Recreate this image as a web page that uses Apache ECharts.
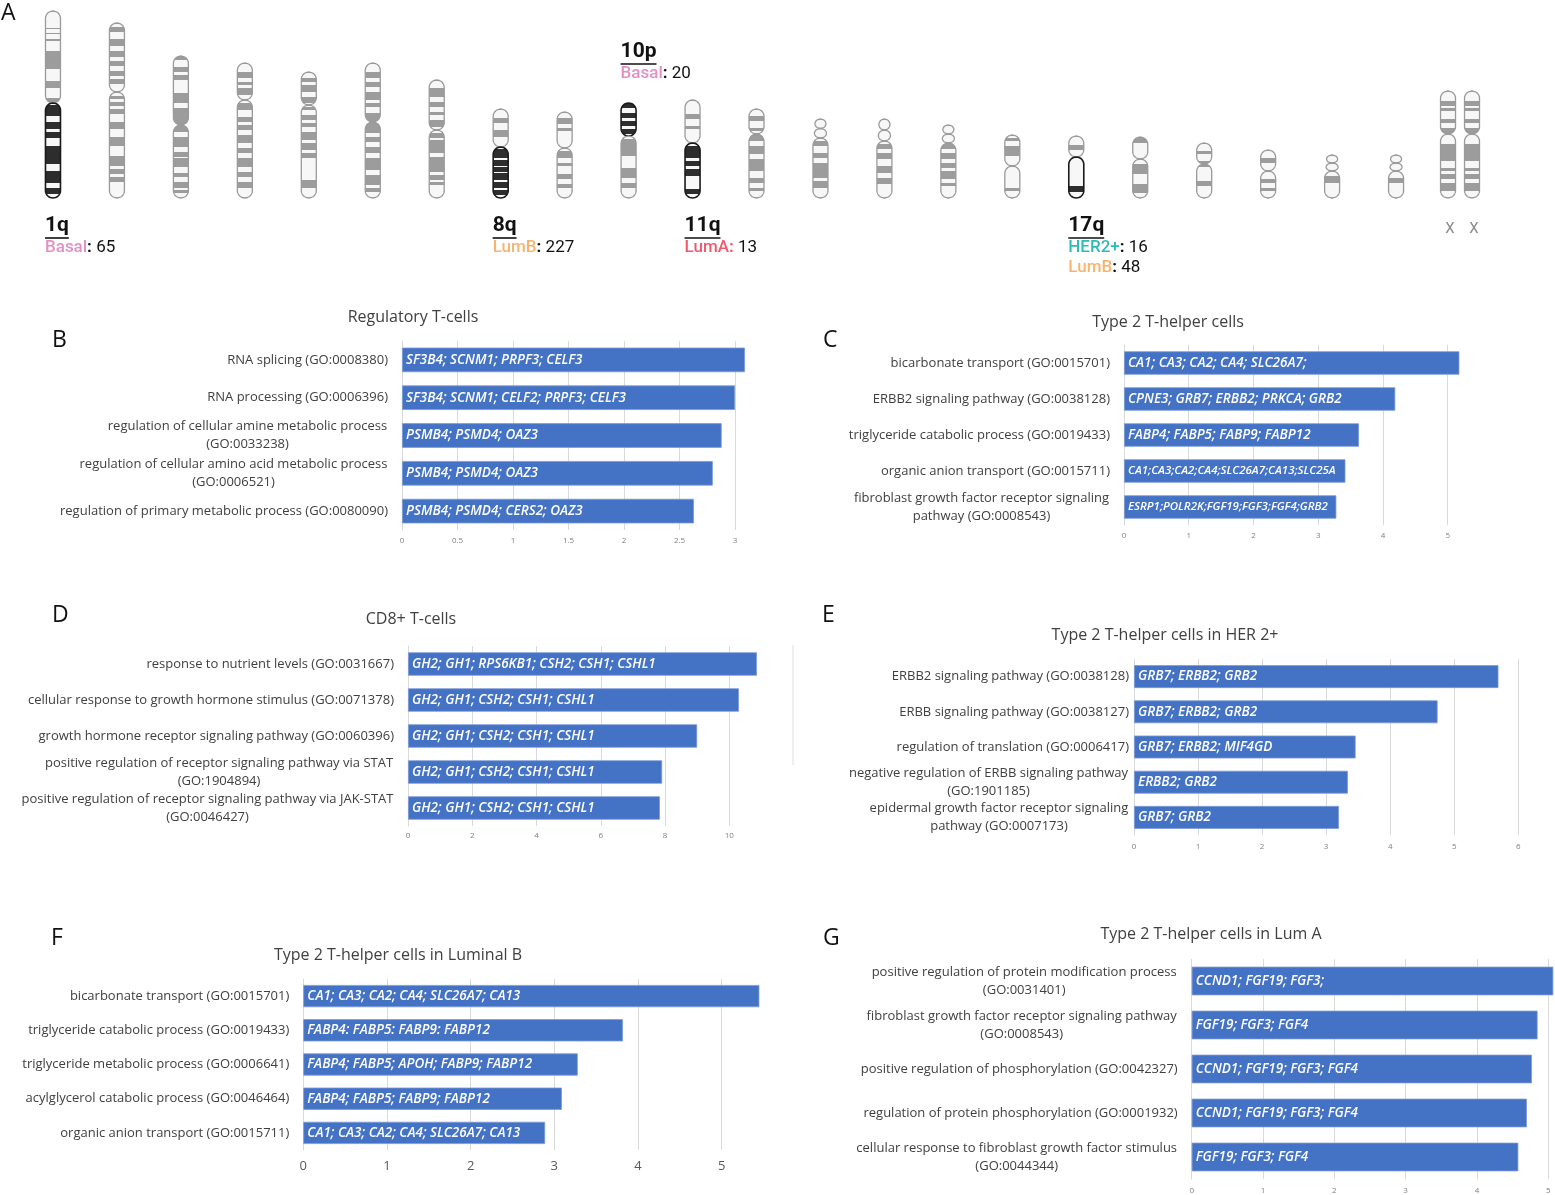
<!DOCTYPE html>
<html><head><meta charset="utf-8">
<script src="https://cdn.jsdelivr.net/npm/echarts@6/dist/echarts.min.js"></script>
<style>html,body{margin:0;padding:0;background:#fff}#c{width:1555px;height:1195px}</style>
</head><body><div id="c"></div>
<script>
// ---------- Panel A: chromosome ideograms ----------
const chromNames = ['1','2','3','4','5','6','7','8','9','10','11','12','13','14','15','16','17','18','19','20','21','22','X'];
const chromLen   = [187,175,142,135,126,135,118,89,86,95,98,89,79,79,73,63,62,61,55,48,43,43,107];
const centroPos  = [92,69,69,37,33,59,50,38,36,33,43,25,19,22,18,31,21,22,21,21,16,16,43];
const acrocentric = ['13','14','15','21','22'];
const chromBands = [
  [[17,18],[22,23],[28,30],[40,58],[70,77],[87,92],[94,105],[111,118],[121,127],[135,153],[160,172],[177,183]],
  [[4,9],[16,23],[28,34],[38,43],[48,53],[56,61],[73,76],[79,83],[86,91],[99,106],[114,123],[133,143],[146,151],[154,159]],
  [[0,4],[11,16],[19,24],[37,47],[52,76],[81,91],[96,101],[102,111],[117,121],[126,132],[134,137]],
  [[9,15],[19,22],[25,32],[40,47],[54,59],[62,67],[72,80],[85,90],[95,104],[109,114],[119,125]],
  [[6,10],[13,20],[25,31],[35,38],[43,48],[51,55],[60,68],[71,78],[81,86],[108,116]],
  [[9,15],[19,24],[29,37],[40,44],[50,70],[74,79],[84,90],[95,107],[112,122],[125,129]],
  [[8,17],[22,27],[32,35],[40,47],[53,58],[60,73],[77,92],[95,100],[102,105]],
  [[9,14],[21,28],[40,49],[51,57],[58,63],[64,71],[73,79],[81,86]],
  [[6,12],[16,19],[39,46],[51,54],[62,67],[72,76]],
  [[1,5],[10,15],[18,23],[26,31],[36,53],[65,75],[80,85]],
  [[14,19],[26,29],[46,58],[61,66],[69,76],[89,94]],
  [[7,12],[19,22],[25,32],[37,45],[50,62],[69,74],[79,82]],
  [[22,27],[34,39],[44,59],[62,69]],
  [[25,30],[34,40],[47,54],[59,65]],
  [[19,24],[28,34],[38,43],[46,54],[58,61]],
  [[3,6],[11,21],[53,56]],
  [[9,14],[50,56]],
  [[0,6],[27,37],[47,56]],
  [[8,11],[18,24],[38,43]],
  [[8,13],[29,33],[38,41]],
  [[21,28]],
  [[23,28]],
  [[10,15],[17,20],[28,32],[37,42],[53,70],[77,80],[83,88],[92,100]]
];
const highlightArm = {'1':'q','8':'q','10':'p','11':'q','17':'q'};

// Annotations of gained arms per subtype
const annotArm   = ['1q','8q','10p','11q','17q'];
const annotChrom = ['1','8','10','11','17'];
const annotSubtypes = [['Basal'],['LumB'],['Basal'],['LumA'],['HER2+','LumB']];
const annotCounts   = [[65],[227],[20],[13],[16,48]];
const subtypeColor = {'Basal':'#e48fc5','LumB':'#f8b46f','LumA':'#f05a6f','HER2+':'#2dbdb7'};

// ---------- Bar panels ----------
const bCats = ['RNA splicing (GO:0008380)','RNA processing (GO:0006396)','regulation of cellular amine metabolic process\n(GO:0033238)','regulation of cellular amino acid metabolic process\n(GO:0006521)','regulation of primary metabolic process (GO:0080090)'];
const bVals = [3.09,3.00,2.88,2.80,2.63];
const bGenes = ['SF3B4; SCNM1; PRPF3; CELF3','SF3B4; SCNM1; CELF2; PRPF3; CELF3','PSMB4; PSMD4; OAZ3','PSMB4; PSMD4; OAZ3','PSMB4; PSMD4; CERS2; OAZ3'];

const cCats = ['bicarbonate transport (GO:0015701)','ERBB2 signaling pathway (GO:0038128)','triglyceride catabolic process (GO:0019433)','organic anion transport (GO:0015711)','fibroblast growth factor receptor signaling\npathway (GO:0008543)'];
const cVals = [5.18,4.19,3.63,3.42,3.28];
const cGenes = ['CA1; CA3; CA2; CA4; SLC26A7;','CPNE3; GRB7; ERBB2; PRKCA; GRB2','FABP4; FABP5; FABP9; FABP12','CA1;CA3;CA2;CA4;SLC26A7;CA13;SLC25A','ESRP1;POLR2K;FGF19;FGF3;FGF4;GRB2'];

const dCats = ['response to nutrient levels (GO:0031667)','cellular response to growth hormone stimulus (GO:0071378)','growth hormone receptor signaling pathway (GO:0060396)','positive regulation of receptor signaling pathway via STAT\n(GO:1904894)','positive regulation of receptor signaling pathway via JAK-STAT\n(GO:0046427)'];
const dVals = [10.86,10.3,9.0,7.91,7.84];
const dGenes = ['GH2; GH1; RPS6KB1; CSH2; CSH1; CSHL1','GH2; GH1; CSH2; CSH1; CSHL1','GH2; GH1; CSH2; CSH1; CSHL1','GH2; GH1; CSH2; CSH1; CSHL1','GH2; GH1; CSH2; CSH1; CSHL1'];

const eCats = ['ERBB2 signaling pathway (GO:0038128)','ERBB signaling pathway (GO:0038127)','regulation of translation (GO:0006417)','negative regulation of ERBB signaling pathway\n(GO:1901185)','epidermal growth factor receptor signaling\npathway (GO:0007173)'];
const eVals = [5.69,4.74,3.46,3.34,3.20];
const eGenes = ['GRB7; ERBB2; GRB2','GRB7; ERBB2; GRB2','GRB7; ERBB2; MIF4GD','ERBB2; GRB2','GRB7; GRB2'];

const fCats = ['bicarbonate transport (GO:0015701)','triglyceride catabolic process (GO:0019433)','triglyceride metabolic process (GO:0006641)','acylglycerol catabolic process (GO:0046464)','organic anion transport (GO:0015711)'];
const fVals = [5.45,3.82,3.28,3.09,2.89];
const fGenes = ['CA1; CA3; CA2; CA4; SLC26A7; CA13','FABP4: FABP5: FABP9: FABP12','FABP4; FABP5; APOH; FABP9; FABP12','FABP4; FABP5; FABP9; FABP12','CA1; CA3; CA2; CA4; SLC26A7; CA13'];

const gCats = ['positive regulation of protein modification process\n(GO:0031401)','fibroblast growth factor receptor signaling pathway\n(GO:0008543)','positive regulation of phosphorylation (GO:0042327)','regulation of protein phosphorylation (GO:0001932)','cellular response to fibroblast growth factor stimulus\n(GO:0044344)'];
const gVals = [5.07,4.85,4.77,4.70,4.58];
const gGenes = ['CCND1; FGF19; FGF3;','FGF19; FGF3; FGF4','CCND1; FGF19; FGF3; FGF4','CCND1; FGF19; FGF3; FGF4','FGF19; FGF3; FGF4'];

const panelTitles = ['Regulatory T-cells','Type 2 T-helper cells','CD8+ T-cells','Type 2 T-helper cells in HER 2+','Type 2 T-helper cells in Luminal B','Type 2 T-helper cells in Lum A'];
const panelLetters = ['A','B','C','D','E','F','G'];

// ---------- helpers ----------
const FONT = 'Open Sans';
const mctx = document.createElement('canvas').getContext('2d');
function textW(str, font) { mctx.font = font; return mctx.measureText(str).width; }

function halfW(y, ya, yb, r) {
  const ry = Math.min(r, (yb - ya) / 2);
  let d = 0;
  if (y < ya + ry) d = (ya + ry - y) / ry;
  else if (y > yb - ry) d = (y - (yb - ry)) / ry;
  return r * Math.sqrt(Math.max(0, 1 - d * d));
}
function capsulePts(xc, ya, yb, r, y1, y2) {
  y1 = Math.max(y1, ya); y2 = Math.min(y2, yb);
  if (y2 - y1 < 0.2) return null;
  const n = Math.max(2, Math.ceil((y2 - y1) / 0.5));
  const L = [], R = [];
  for (let k = 0; k <= n; k++) {
    const y = y1 + (y2 - y1) * k / n;
    const h = halfW(y, ya, yb, r);
    L.push([xc - h, y]); R.push([xc + h, y]);
  }
  return L.concat(R.reverse());
}
function armEls(xc, ya, yb, r, bands, bandColor, stroke, lw) {
  const els = [];
  const full = capsulePts(xc, ya, yb, r, ya, yb);
  if (!full) return els;
  els.push({type:'polygon', shape:{points: full}, style:{fill:'#f7f7f7'}});
  bands.forEach(b => {
    const p = capsulePts(xc, ya, yb, r, b[0], b[1]);
    if (p) els.push({type:'polygon', shape:{points:p}, style:{fill:bandColor}});
  });
  els.push({type:'polygon', shape:{points: full}, style:{fill:'none', stroke: stroke, lineWidth: lw}});
  return els;
}

function renderChrom(params, api) {
  const i = params.dataIndex;
  const name = chromNames[i];
  const len = chromLen[i], c = centroPos[i];
  const yOf = pos => api.coord([i, len - pos])[1];
  const base = api.coord([i, 0]);
  const hl = highlightArm[name];
  const offsets = name === 'X' ? [-12, 12] : [0];
  const children = [];
  offsets.forEach(off => {
    const xc = base[0] + off;
    const r = 7.5;
    const top = yOf(0), cen = yOf(c), bot = yOf(len);
    const pBands = [], qBands = [];
    chromBands[i].forEach(b => {
      const s = yOf(b[0]), e = yOf(b[1]);
      if (s < cen) pBands.push([s, Math.min(e, cen)]);
      if (e > cen) qBands.push([Math.max(s, cen), e]);
    });
    if (acrocentric.indexOf(name) >= 0) {
      const mid = (top + cen) / 2;
      children.push(...armEls(xc, top, mid, 5.5, [], '#9c9c9c', '#9a9a9a', 1.3));
      children.push(...armEls(xc, mid, cen, 6, [], '#9c9c9c', '#9a9a9a', 1.3));
    } else {
      const pHL = hl === 'p';
      children.push(...armEls(xc, top, cen, r, pBands, pHL ? '#2d2d2d' : '#9c9c9c', pHL ? '#1a1a1a' : '#9a9a9a', pHL ? 1.6 : 1.3));
    }
    const qHL = hl === 'q';
    children.push(...armEls(xc, cen, bot, r, qBands, qHL ? '#2d2d2d' : '#9c9c9c', qHL ? '#1a1a1a' : '#9a9a9a', qHL ? 1.6 : 1.3));
    if (name === 'X') {
      children.push({type:'text', x: xc + 2, y: bot + 31, style:{text:'X', fill:'#8a8a8a', font:'15px Roboto', textAlign:'center', textVerticalAlign:'middle'}});
    }
  });
  return {type:'group', children};
}

function renderAnnot(params, api) {
  const k = params.dataIndex;
  const ci = chromNames.indexOf(annotChrom[k]);
  const len = chromLen[ci];
  const isP = annotArm[k].slice(-1) === 'p';
  const bottom = api.coord([ci, 0]);
  const topY = api.coord([ci, len])[1];
  const x = bottom[0] - 8;
  const y0 = isP ? topY - 51 : bottom[1] + 28;
  const armFont = 'bold 21px Roboto';
  const w = textW(annotArm[k], armFont);
  const children = [
    {type:'text', x, y: y0, style:{text: annotArm[k], font: armFont, fill:'#111', textAlign:'left', textVerticalAlign:'middle'}},
    {type:'line', shape:{x1:x, y1:y0 + 12, x2:x + w, y2:y0 + 12}, style:{stroke:'#111', lineWidth:1.6}}
  ];
  annotSubtypes[k].forEach((s, j) => {
    const colonCol = s === 'LumA' ? subtypeColor[s] : '#111';
    children.push({type:'text', x, y: y0 + 22 + j * 20, style:{
      text: '{s|' + s + '}{c|:}{n| ' + annotCounts[k][j] + '}',
      textAlign:'left', textVerticalAlign:'middle',
      rich: {
        s: {fill: subtypeColor[s], fontSize: 17, fontFamily:'Roboto', fontWeight: 500},
        c: {fill: colonCol, fontSize: 17, fontFamily:'Roboto', fontWeight: 700},
        n: {fill: '#111', fontSize: 17, fontFamily:'Roboto'}
      }
    }});
  });
  return {type:'group', children};
}

// ---------- build option ----------
const grids = [], xAxes = [], yAxes = [], series = [];

grids.push({left: 21, top: 8, width: 1471, height: 190});
xAxes.push({type:'category', gridIndex:0, data: chromNames, show:false});
yAxes.push({type:'value', gridIndex:0, min:0, max:190, show:false});
series.push({type:'custom', xAxisIndex:0, yAxisIndex:0, renderItem: renderChrom, data: chromNames.map((n, i) => [i, chromLen[i]]), silent:true, animation:false, clip:false});
series.push({type:'custom', xAxisIndex:0, yAxisIndex:0, renderItem: renderAnnot, data: annotArm.map((a, k) => [chromNames.indexOf(annotChrom[k]), 0]), silent:true, animation:false, clip:false});

const panels = [
  {cats:bCats, vals:bVals, genes:bGenes, lay:{left:402, top:341, width:333, height:189, max:3, step:0.5, tickFont:8, tickMargin:7, labelMargin:14}},
  {cats:cCats, vals:cVals, genes:cGenes, lay:{left:1124, top:345, width:323.7, height:180, max:5, step:1, tickFont:8, tickMargin:7, labelMargin:14}, labelSize:{3:11.5, 4:11.5}},
  {cats:dCats, vals:dVals, genes:dGenes, lay:{left:408, top:646, width:321.3, height:180, max:10, step:2, tickFont:8, tickMargin:6, labelMargin:14}},
  {cats:eCats, vals:eVals, genes:eGenes, lay:{left:1134, top:659, width:384.3, height:176, max:6, step:1, tickFont:8, tickMargin:8, labelMargin:5}},
  {cats:fCats, vals:fVals, genes:fGenes, lay:{left:303.3, top:979, width:418.4, height:171, max:5, step:1, tickFont:13, tickMargin:10, labelMargin:14}},
  {cats:gCats, vals:gVals, genes:gGenes, lay:{left:1191.7, top:959, width:356.6, height:221, max:5, step:1, tickFont:8, tickMargin:8, labelMargin:14}}
];

panels.forEach((p, pi) => {
  const gi = pi + 1;
  const L = p.lay;
  const rich = {}, fmt = {};
  p.cats.forEach((c, k) => {
    const lines = c.split('\n');
    if (lines.length > 1) {
      const w = Math.ceil(textW(lines[0], '13px "Open Sans"')) + 1;
      rich['w' + k] = {width: w, align:'center', fontSize:13, fontFamily:FONT, color:'#404040', lineHeight:18};
      fmt[c] = lines.map(l => '{w' + k + '|' + l + '}').join('\n');
    } else fmt[c] = c;
  });
  grids.push({left:L.left, top:L.top, width:L.width, height:L.height});
  xAxes.push({type:'value', gridIndex:gi, min:0, max:L.max, interval:L.step,
    axisLine:{show:false}, axisTick:{show:false},
    splitLine:{lineStyle:{color:'#d9d9d9', width:1}},
    axisLabel:{fontSize:L.tickFont, color: L.tickFont > 10 ? '#595959' : '#808080', margin:L.tickMargin, fontFamily:FONT}});
  yAxes.push({type:'category', gridIndex:gi, data:p.cats, inverse:true,
    axisLine:{show:true, lineStyle:{color:'#d9d9d9'}}, axisTick:{show:false},
    axisLabel:{interval:0, margin:L.labelMargin, fontSize:13, color:'#404040', fontFamily:FONT, lineHeight:18, align:'right', formatter: v => fmt[v], rich}});
  const sizes = p.labelSize || {};
  series.push({type:'bar', xAxisIndex:gi, yAxisIndex:gi, barCategoryGap:'35%', clip:false, silent:true, animation:false,
    itemStyle:{color:'#4472C4', borderColor:'#7b9bd6', borderWidth:0.8},
    label:{show:true, position:'insideLeft', distance:4, color:'#fff', fontStyle:'italic', fontWeight:600, fontSize:13.5, fontFamily:FONT,
      formatter: q => p.genes[q.dataIndex]},
    data: p.vals.map((v, k) => sizes[k] ? {value:v, label:{fontSize:sizes[k]}} : v)});
});

const titlePos = [[413,309],[1168,314],[411,611],[1165,627],[398,947],[1211,926]];
const letterPos = [[1,2],[52,329],[823,329],[52,604],[822,604],[51,927],[823,927]];
const titles = [];
panelTitles.forEach((t, k) => titles.push({text:t, left:titlePos[k][0], top:titlePos[k][1], textAlign:'center', padding:0,
  textStyle:{fontSize:16, fontWeight:'normal', color:'#404040', fontFamily:FONT}}));
panelLetters.forEach((t, k) => titles.push({text:t, left:letterPos[k][0], top:letterPos[k][1], padding:0,
  textStyle:{fontSize:23, fontWeight:'normal', color:'#111', fontFamily:FONT}}));

const chart = echarts.init(document.getElementById('c'), null, {renderer:'canvas'});
chart.setOption({
  backgroundColor:'#fff',
  animation:false,
  title: titles,
  grid: grids, xAxis: xAxes, yAxis: yAxes, series,
  graphic: [{type:'line', shape:{x1:793, y1:645, x2:793, y2:765}, style:{stroke:'#dcdcdc', lineWidth:1}}]
});
</script></body></html>
